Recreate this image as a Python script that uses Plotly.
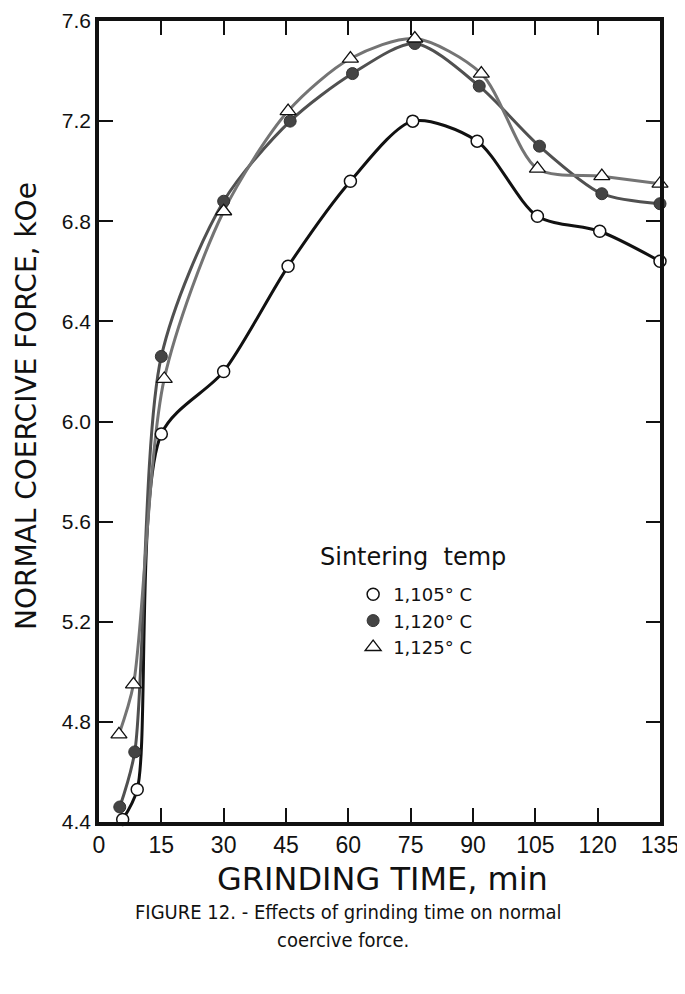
import plotly.graph_objects as go

# grinding time, min / normal coercive force, kOe
t_1105 = [5.7, 9.2, 15, 30, 45.5, 60.5, 75.5, 91, 105.5, 120.5, 135]
h_1105 = [4.41, 4.53, 5.95, 6.20, 6.62, 6.96, 7.20, 7.12, 6.82, 6.76, 6.64]

t_1120 = [5, 8.6, 15, 30, 46, 61, 76, 91.5, 106, 121, 135]
h_1120 = [4.46, 4.68, 6.26, 6.88, 7.20, 7.39, 7.51, 7.34, 7.10, 6.91, 6.87]

t_1125 = [4.8, 8.3, 15.7, 30, 45.5, 60.5, 76, 92, 105.5, 121, 135]
h_1125 = [4.75, 4.95, 6.17, 6.84, 7.24, 7.45, 7.53, 7.39, 7.01, 6.98, 6.95]

x_ticks = [0, 15, 30, 45, 60, 75, 90, 105, 120, 135]
y_ticks = [4.4, 4.8, 5.2, 5.6, 6.0, 6.4, 6.8, 7.2, 7.6]

font = "Liberation Sans, DejaVu Sans, sans-serif"
wide = "DejaVu Sans, sans-serif"
narrow = "Liberation Sans Narrow, DejaVu Sans Condensed, sans-serif"
ink = "#111111"

# the page body adds an 8px margin, so the figure is drawn 8px smaller
OFF = 8
FW, FH = 685 - OFF, 994 - OFF
# plot box on screen: left 99, right 660, top 21, bottom 822
L, T, W, H = 99, 21, 561, 801
def px(x):
    return (x - L) / W
def py(y):
    return (T + H - y) / H

series = [
    ("1,105° C", t_1105, h_1105, "#111111", dict(symbol="circle", color="white", size=12,
                                                 line=dict(color=ink, width=1.5))),
    ("1,120° C", t_1120, h_1120, "#505050", dict(symbol="circle", color="#444444", size=12,
                                                 line=dict(color="#333333", width=1))),
    ("1,125° C", t_1125, h_1125, "#747474", dict(symbol="triangle-up", color="white", size=14,
                                                 line=dict(color=ink, width=1.3))),
]

fig = go.Figure()
for name, x, y, lc, mk in series:
    fig.add_trace(go.Scatter(x=x, y=y, mode="lines", showlegend=False, hoverinfo="skip",
                             line=dict(color=lc, width=3, shape="spline", smoothing=0.8)))
for name, x, y, lc, mk in series:
    fig.add_trace(go.Scatter(x=x, y=y, mode="markers", name=name, marker=mk, cliponaxis=False))

axis = dict(showline=True, linecolor=ink, linewidth=3.5, mirror="ticks",
            ticks="inside", ticklen=14, tickwidth=2, tickcolor=ink,
            showgrid=False, zeroline=False, automargin=False, ticklabeloverflow="allow")

fig.update_layout(
    width=FW, height=FH,
    margin=dict(l=L - OFF, r=FW - (L - OFF) - W, t=T - OFF, b=FH - (T - OFF) - H),
    paper_bgcolor="white", plot_bgcolor="white",
    xaxis=dict(axis, range=[0, 135], tickvals=x_ticks,
               tickfont=dict(family=font, size=23, color=ink)),
    yaxis=dict(axis, range=[4.4, 7.6], tickvals=y_ticks, tickformat=".1f",
               tickfont=dict(family=font, size=21, color=ink)),
    legend=dict(x=0.453, y=py(576), xanchor="left", yanchor="top",
                bgcolor="rgba(0,0,0,0)", tracegroupgap=0, itemwidth=30,
                font=dict(family=wide, size=18, color=ink)),
    annotations=[
        dict(text="NORMAL COERCIVE FORCE, kOe", xref="paper", yref="paper",
             x=px(27), y=py(406), xanchor="center", yanchor="middle", textangle=-90,
             borderpad=0, showarrow=False, font=dict(family=wide, size=28, color=ink)),
        dict(text="GRINDING TIME, min", xref="paper", yref="paper",
             x=px(382), y=py(879), xanchor="center", yanchor="middle",
             showarrow=False, font=dict(family=wide, size=32, color=ink)),
        dict(text="Sintering  temp", xref="paper", yref="paper",
             x=px(318), y=py(557), xanchor="left", yanchor="middle",
             showarrow=False, font=dict(family=wide, size=24, color=ink)),
        dict(text="FIGURE 12. - Effects of grinding time on normal",
             xref="paper", yref="paper", x=px(133), y=py(912),
             xanchor="left", yanchor="middle", showarrow=False,
             font=dict(family=narrow, size=20, color=ink)),
        dict(text="coercive force.",
             xref="paper", yref="paper", x=px(275), y=py(940),
             xanchor="left", yanchor="middle", showarrow=False,
             font=dict(family=narrow, size=20, color=ink)),
    ],
)

fig.write_html("out.html")
